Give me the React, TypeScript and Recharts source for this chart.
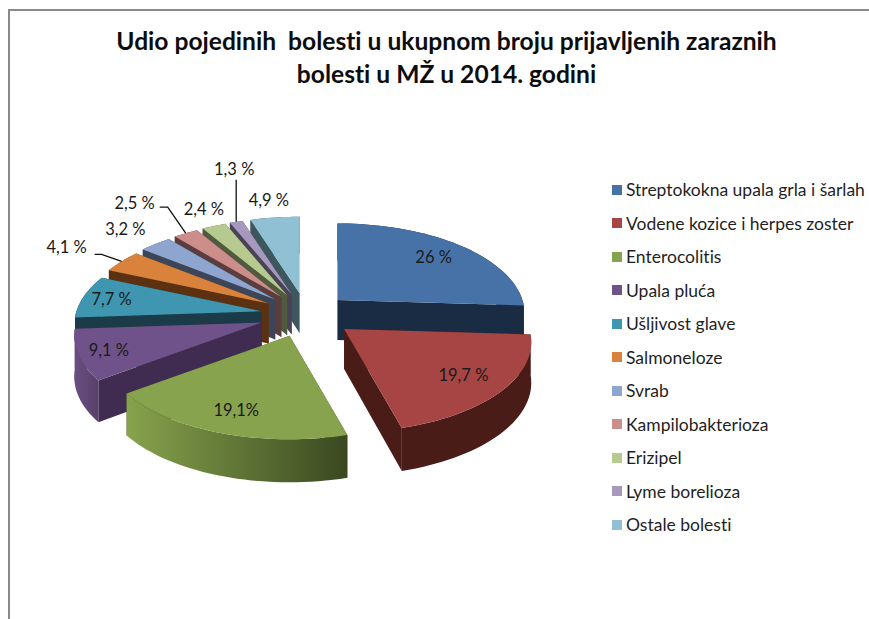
import React from 'react';
import { PieChart, Pie, Legend } from 'recharts';

// chart values, in legend order
const categories = [
  'Streptokokna upala grla i šarlah',
  'Vodene kozice i herpes zoster',
  'Enterocolitis',
  'Upala pluća',
  'Ušljivost glave',
  'Salmoneloze',
  'Svrab',
  'Kampilobakterioza',
  'Erizipel',
  'Lyme borelioza',
  'Ostale bolesti',
];
const values = [26, 19.7, 19.1, 9.1, 7.7, 4.1, 3.2, 2.5, 2.4, 1.3, 4.9];
const valueLabels = ['26 %', '19,7 %', '19,1%', '9,1 %', '7,7 %', '4,1 %', '3,2 %', '2,5 %', '2,4 %', '1,3 %', '4,9 %'];

const topColors = ['#4672a8', '#a64543', '#87a34d', '#6f5289', '#3f96b0', '#d9823b', '#8da5cf', '#cd8d8b', '#b6c98f', '#a699bd', '#8fc0d3'];
const wallLeft = ['#1a2c44', '#4a1c18', '#87a34d', '#6a4f84', '#1a3b47', '#5b3112', '#3d4658', '#5a3e3e', '#4f5a3f', '#4a4357', '#3e565e'];
const wallRight = ['#1a2c44', '#4a1c18', '#3a4820', '#584068', '#1a3b47', '#5b3112', '#3d4658', '#5a3e3e', '#4f5a3f', '#4a4357', '#3e565e'];
const radialWall = ['#1a2c44', '#4a1c18', '#3a4820', '#3f2c50', '#1a3b47', '#5b3112', '#3d4658', '#5a3e3e', '#4f5a3f', '#4a4357', '#3e565e'];

// painter's order: back slices first, walking counter-clockwise from the blue one
const drawOrder = [0, 10, 9, 8, 7, 6, 5, 4, 3, 2, 1];
const pieData = drawOrder.map((i) => ({ name: categories[i], value: values[i], fill: topColors[i] }));

// label placement: inside labels sit at a fraction of the radius, outside ones relative to the rim
const labelFractions = [0.77, 0.77, 0.79, 0.84, 0.84, 1, 1, 1, 1, 1, 1];
const labelOffsets: ([number, number] | null)[] = [null, null, null, null, null, [-55, -14], [-30, -15], [-51, -30], [-10, -17], [-2, -53], [-6, -18]];
const leaders: ([number, number][] | null)[] = [null, null, null, null, null, [[-27, -7], [-20, -7]], null, [[-26, -26], [-18, -26]], null, [[0, -42], [0, -42]], null];

const CX = 306;
const CY = 315;
const RX = 185;
const RY = 88;
const DEPTH = 40;
const FONT = 'Lato, sans-serif';

const rad = (a: number) => (a * Math.PI) / 180;

// flat pie point -> tilted view, near side bigger than far side
const project = (cx: number, cy: number, r: number, a: number, f: number) => {
  const u = Math.cos(rad(a));
  const v = Math.sin(rad(a));
  const k = 1 + 0.15 * v * f;
  return { x: cx + (r * f * u) / k, y: cy - (RY * f * v) / k, v: v * f };
};

const apexOf = (cx: number, cy: number, mid: number) => {
  const v = Math.sin(rad(mid));
  return {
    x: cx + (46 * Math.cos(rad(mid))) / (1 + 0.1 * v),
    y: cy - 22 * v,
  };
};

const pts = (list: { x: number; y: number }[]) => list.map((p) => `${p.x.toFixed(1)},${p.y.toFixed(1)}`).join(' ');

const Slice3D = (props: any) => {
  const { cx, cy, outerRadius, startAngle, endAngle, midAngle, name } = props;
  const i = categories.indexOf(name);
  const apex = apexOf(cx, cy, midAngle);
  const rim: { x: number; y: number; v: number }[] = [];
  const steps = Math.max(4, Math.ceil((endAngle - startAngle) / 2));
  for (let s = 0; s <= steps; s++) {
    const p = project(apex.x, apex.y, outerRadius, startAngle + ((endAngle - startAngle) * s) / steps, 1);
    rim.push(p);
  }
  const drop = (p: { x: number; y: number; v?: number }) => ({ x: p.x, y: p.y + DEPTH - 3 * (p.v ?? 0) });
  const first = rim[0];
  const last = rim[rim.length - 1];
  const gradId = `wall-${i}`;
  return (
    <g>
      <defs>
        <linearGradient id={gradId} x1="0" y1="0" x2="1" y2="0">
          <stop offset="0%" stopColor={wallLeft[i]} />
          <stop offset="100%" stopColor={wallRight[i]} />
        </linearGradient>
      </defs>
      <polygon points={pts([apex, first, drop(first), drop(apex)])} fill={radialWall[i]} />
      <polygon points={pts([apex, last, drop(last), drop(apex)])} fill={radialWall[i]} />
      <polygon points={pts([...rim, ...rim.map(drop).reverse()])} fill={`url(#${gradId})`} />
      <polygon points={pts([apex, ...rim])} fill={topColors[i]} />
    </g>
  );
};

const SliceLabel = (props: any) => {
  const { cx, cy, outerRadius, midAngle, name } = props;
  const i = categories.indexOf(name);
  const apex = apexOf(cx, cy, midAngle);
  const off = labelOffsets[i];
  const rim = project(apex.x, apex.y, outerRadius, midAngle, 1);
  const pos = off ? { x: rim.x + off[0], y: rim.y + off[1] } : project(apex.x, apex.y, outerRadius, midAngle, labelFractions[i]);
  const leader = leaders[i];
  return (
    <g>
      {leader && (
        <polyline
          points={pts([...leader.map(([dx, dy]) => ({ x: rim.x + dx, y: rim.y + dy })), rim])}
          fill="none"
          stroke="#111"
          strokeWidth={1.3}
        />
      )}
      <text
        x={pos.x}
        y={pos.y}
        textAnchor="middle"
        dominantBaseline="central"
        fontFamily={FONT}
        fontSize={16.5}
        fill="#1a1a1a"
        style={{ fontVariantLigatures: 'none' }}
      >
        {valueLabels[i]}
      </text>
    </g>
  );
};

const LegendList = ({ payload }: any) => {
  const sorted = [...(payload || [])].sort((a: any, b: any) => categories.indexOf(a.value) - categories.indexOf(b.value));
  return (
    <div style={{ fontFamily: FONT, fontSize: 17.5, color: '#1f1f1f', fontVariantLigatures: 'none' }}>
      {sorted.map((item: any) => (
        <div key={item.value} style={{ height: 33.5, display: 'flex', alignItems: 'center', whiteSpace: 'nowrap' }}>
          <span style={{ width: 10, height: 10, marginRight: 4, background: item.color, display: 'inline-block' }} />
          {item.value}
        </div>
      ))}
    </div>
  );
};

export default function App() {
  return (
    <div style={{ position: 'absolute', left: 0, top: 0, width: 869, height: 619, background: '#fff', overflow: 'hidden' }}>
      <div style={{ position: 'absolute', left: 8, top: 9, right: 0, bottom: 0, borderTop: '2px solid #8a8a8a', borderLeft: '2px solid #8a8a8a' }} />
      <div
        style={{
          position: 'absolute',
          left: 0,
          top: 24,
          width: 893,
          textAlign: 'center',
          fontFamily: FONT,
          fontWeight: 700,
          fontSize: 24.6,
          lineHeight: '33px',
          color: '#0d0d0d',
          whiteSpace: 'pre',
          fontVariantLigatures: 'none',
        }}
      >
        {'Udio pojedinih  bolesti u ukupnom broju prijavljenih zaraznih\nbolesti u MŽ u 2014. godini'}
      </div>
      <div style={{ position: 'absolute', left: 0, top: 0 }}>
        <PieChart width={869} height={619} margin={{ top: 0, right: 0, bottom: 0, left: 0 }}>
          <Legend
            layout="vertical"
            align="right"
            verticalAlign="top"
            wrapperStyle={{ left: 612, top: 173, width: 257, right: 'auto' }}
            content={<LegendList />}
          />
          <Pie
            data={pieData}
            dataKey="value"
            nameKey="name"
            cx={CX}
            cy={CY}
            innerRadius={0}
            outerRadius={RX}
            startAngle={-3.6}
            endAngle={356.4}
            stroke="none"
            isAnimationActive={false}
            shape={Slice3D}
            label={SliceLabel}
            labelLine={false}
          />
        </PieChart>
      </div>
    </div>
  );
}
